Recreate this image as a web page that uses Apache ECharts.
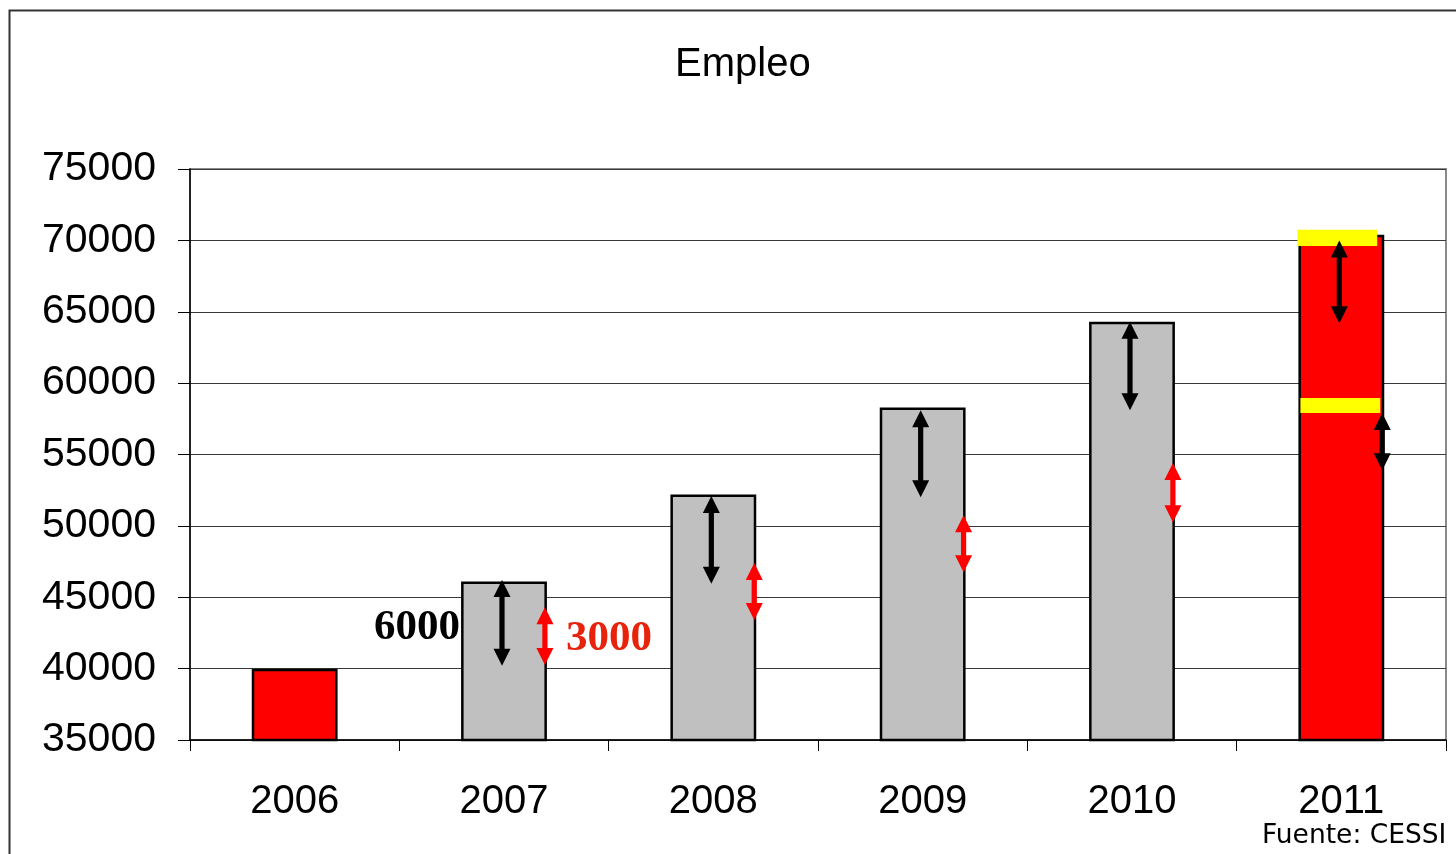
<!DOCTYPE html>
<html>
<head>
<meta charset="utf-8">
<script src="https://cdn.jsdelivr.net/npm/echarts@6/dist/echarts.min.js"></script>
<style>
html,body{margin:0;padding:0;background:#fff;}
#chart{width:1456px;height:854px;}
</style>
</head>
<body>
<div id="chart"></div>
<script>
const categories = ['2006', '2007', '2008', '2009', '2010', '2011'];
const empleo = [40000, 46100, 52200, 58300, 64300, 70400];
const highlightYears = ['2006', '2011'];
const yTicks = [35000, 40000, 45000, 50000, 55000, 60000, 65000, 70000, 75000];
// [year, from, to] arrows drawn in the middle of the bar
const midArrows = [
  ['2007', 46200, 40200],
  ['2008', 52100, 45950],
  ['2009', 58100, 52000],
  ['2010', 64300, 58100],
  ['2011', 70000, 64200]
];
// [year, from, to] arrows drawn on the bar's right edge
const redEdgeArrows = [
  ['2007', 44300, 40250],
  ['2008', 47400, 43400],
  ['2009', 50750, 46750],
  ['2010', 54400, 50250]
];
const blackEdgeArrows = [
  ['2011', 57900, 53900]
];
// [year, top, bottom] yellow marks
const yellowBands = [
  ['2011', 70750, 69600],
  ['2011', 58950, 57900]
];
// [year, value, text]
const leftLabels = [['2007', 42850, '6000']];
const rightLabels = [['2007', 42100, '3000']];

const chart = echarts.init(document.getElementById('chart'));

function arrowShape(x, y1, y2) {
  const hh = 17, hw = 8.5, sw = 2.6;
  const top = Math.min(y1, y2), bot = Math.max(y1, y2);
  return [
    [x, top], [x + hw, top + hh], [x + sw, top + hh],
    [x + sw, bot - hh], [x + hw, bot - hh], [x, bot],
    [x - hw, bot - hh], [x - sw, bot - hh], [x - sw, top + hh],
    [x - hw, top + hh]
  ];
}

const BAR_FRAC = 0.41;

function arrowRender(side, color) {
  return function (params, api) {
    const barW = api.size([1, 0])[0] * BAR_FRAC;
    const p1 = api.coord([api.value(0), api.value(1)]);
    const p2 = api.coord([api.value(0), api.value(2)]);
    let x;
    if (side === 'mid') x = p1[0] - 2;
    else x = p1[0] + barW / 2 - 2;
    return {
      type: 'polygon',
      shape: { points: arrowShape(x, p1[1], p2[1]) },
      style: { fill: color }
    };
  };
}

const option = {
  animation: false,
  backgroundColor: '#fff',
  title: {
    text: 'Empleo',
    left: 670,
    top: 40,
    textStyle: { fontFamily: 'Liberation Sans', fontSize: 40, fontWeight: 'normal', color: '#000' }
  },
  grid: {
    left: 190, right: 10, top: 169, bottom: 114,
    show: true, borderColor: '#8a8a8a', borderWidth: 2
  },
  xAxis: {
    type: 'category',
    data: categories,
    axisLine: { lineStyle: { color: '#000', width: 1.5 } },
    axisTick: { show: true, length: 11, lineStyle: { color: '#000', width: 1 } },
    axisLabel: { margin: 42, fontFamily: 'Liberation Sans', fontSize: 40, color: '#000' }
  },
  yAxis: {
    type: 'value',
    min: 35000, max: 75000, interval: 5000,
    axisLine: { show: true, lineStyle: { color: '#000', width: 1.5 } },
    axisTick: { show: true, length: 12, lineStyle: { color: '#000', width: 1 } },
    axisLabel: {
      margin: 34, fontFamily: 'Liberation Sans', fontSize: 41, color: '#000',
      formatter: v => yTicks.includes(v) ? String(v) : ''
    },
    splitLine: { lineStyle: { color: '#3a3a3a', width: 1 } }
  },
  series: [
    {
      type: 'bar',
      barWidth: '41%',
      data: empleo.map((v, i) => ({
        value: v,
        itemStyle: { color: highlightYears.includes(categories[i]) ? '#ff0000' : '#c0c0c0' }
      })),
      itemStyle: { borderColor: '#000', borderWidth: 2.5 },
      z: 2
    },
    {
      type: 'custom',
      z: 5,
      data: yellowBands,
      encode: { x: 0, y: [1, 2] },
      renderItem: function (params, api) {
        const barW = api.size([1, 0])[0] * BAR_FRAC;
        const p1 = api.coord([api.value(0), api.value(1)]);
        const p2 = api.coord([api.value(0), api.value(2)]);
        const left = p1[0] - barW / 2 + (params.dataIndex === 0 ? -1 : 2);
        return {
          type: 'rect',
          shape: { x: left, y: p1[1], width: barW - 6, height: p2[1] - p1[1] },
          style: { fill: '#ffff00' }
        };
      }
    },
    {
      type: 'custom', z: 6, data: midArrows, encode: { x: 0, y: [1, 2] },
      renderItem: arrowRender('mid', '#000')
    },
    {
      type: 'custom', z: 6, data: redEdgeArrows, encode: { x: 0, y: [1, 2] },
      renderItem: arrowRender('edge', '#ff0000')
    },
    {
      type: 'custom', z: 6, data: blackEdgeArrows, encode: { x: 0, y: [1, 2] },
      renderItem: arrowRender('edge', '#000')
    },
    {
      type: 'custom', z: 7, data: leftLabels, encode: { x: 0, y: 1 },
      renderItem: function (params, api) {
        const barW = api.size([1, 0])[0] * BAR_FRAC;
        const p = api.coord([api.value(0), api.value(1)]);
        return {
          type: 'text',
          style: {
            x: p[0] - barW / 2 - 1, y: p[1], text: leftLabels[params.dataIndex][2],
            align: 'right', verticalAlign: 'middle',
            font: 'bold 43px "Liberation Serif"', fill: '#000'
          }
        };
      }
    },
    {
      type: 'custom', z: 7, data: rightLabels, encode: { x: 0, y: 1 },
      renderItem: function (params, api) {
        const barW = api.size([1, 0])[0] * BAR_FRAC;
        const p = api.coord([api.value(0), api.value(1)]);
        return {
          type: 'text',
          style: {
            x: p[0] + barW / 2 + 19, y: p[1], text: rightLabels[params.dataIndex][2],
            align: 'left', verticalAlign: 'middle',
            font: 'bold 43px "Liberation Serif"', fill: '#e8230c'
          }
        };
      }
    }
  ],
  graphic: [
    {
      type: 'rect',
      shape: { x: 9.5, y: 10.5, width: 1500, height: 900 },
      style: { fill: 'none', stroke: '#333', lineWidth: 2 },
      silent: true
    },
    {
      type: 'text',
      left: 1262, top: 823,
      style: { text: 'Fuente: CESSI', font: '26.5px "DejaVu Sans"', fill: '#000' }
    }
  ]
};
chart.setOption(option);
</script>
</body>
</html>
